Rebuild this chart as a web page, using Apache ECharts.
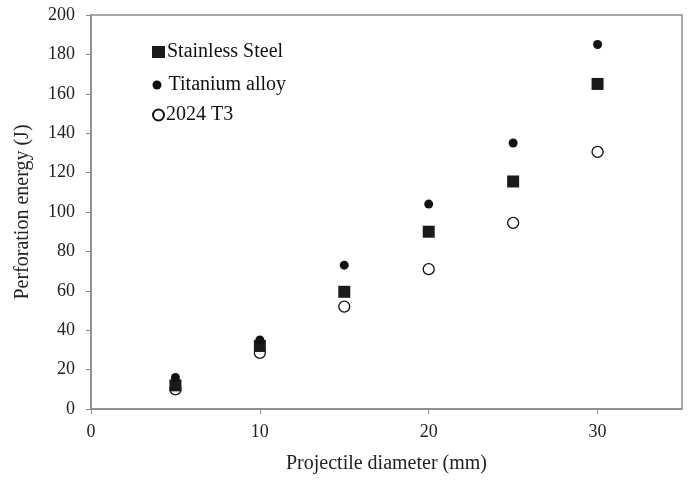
<!DOCTYPE html>
<html><head><meta charset="utf-8">
<script src="https://cdn.jsdelivr.net/npm/echarts@6/dist/echarts.min.js"></script>
<style>html,body{margin:0;padding:0;background:#fff}#c{width:690px;height:481px}</style>
</head><body><div id="c"></div>
<script>
const diameters = [5, 10, 15, 20, 25, 30];
const stainlessSteel = [12, 32, 59.5, 90, 115.5, 165];
const titaniumAlloy = [16, 35, 73, 104, 135, 185];
const al2024T3 = [10, 28.5, 52, 71, 94.5, 130.5];
const seriesNames = ['Stainless Steel', 'Titanium alloy', '2024 T3'];

const font = 'Liberation Serif, Times New Roman, serif';
const pair = (ys) => diameters.map((x, i) => [x, ys[i]]);
const chart = echarts.init(document.getElementById('c'));
const mkLegend = (name, icon, left, top, w, h, padLeft) => ({
  orient: 'vertical', itemGap: 0, selectedMode: false, left: left, top: top,
  itemWidth: w, itemHeight: h, data: [{ name: name, icon: icon }],
  textStyle: { fontFamily: font, fontSize: 20, color: '#111', padding: [0, 0, 0, padLeft] }
});
chart.setOption({
  animation: false,
  grid: { left: 91, right: 8, top: 15, bottom: 72, show: true, borderColor: '#8a8a8a', borderWidth: 1.5 },
  legend: [
    mkLegend(seriesNames[0], 'rect', 147, 37, 13, 12, -3),
    mkLegend(seriesNames[1], 'circle', 147.5, 70, 9, 9, 2),
    mkLegend(seriesNames[2], 'circle', 147, 100, 11, 11, -3)
  ],
  xAxis: {
    type: 'value', min: 0, max: 35, interval: 10,
    name: 'Projectile diameter (mm)', nameLocation: 'middle', nameGap: 45,
    nameTextStyle: { fontFamily: font, fontSize: 20, color: '#222' },
    axisLine: { show: true, lineStyle: { color: '#8a8a8a', width: 1.5 } },
    axisTick: { show: true, length: 5, lineStyle: { color: '#8a8a8a' } },
    axisLabel: { fontFamily: font, fontSize: 18, color: '#222', margin: 14, showMaxLabel: false },
    splitLine: { show: false }
  },
  yAxis: {
    type: 'value', min: 0, max: 200, interval: 20,
    name: 'Perforation energy (J)', nameLocation: 'middle', nameGap: 58,
    nameTextStyle: { fontFamily: font, fontSize: 20, color: '#222' },
    axisLine: { show: true, lineStyle: { color: '#8a8a8a', width: 1.5 } },
    axisTick: { show: true, length: 5, lineStyle: { color: '#8a8a8a' } },
    axisLabel: { fontFamily: font, fontSize: 18, color: '#222', margin: 16 },
    splitLine: { show: false }
  },
  series: [
    { name: seriesNames[2], type: 'scatter', data: pair(al2024T3), symbol: 'circle', symbolSize: 11,
      itemStyle: { color: '#fff', borderColor: '#111', borderWidth: 1.3, opacity: 1 }, z: 1 },
    { name: seriesNames[0], type: 'scatter', data: pair(stainlessSteel), symbol: 'rect', symbolSize: 12,
      itemStyle: { color: '#1a1a1a', opacity: 1 }, z: 2 },
    { name: seriesNames[1], type: 'scatter', data: pair(titaniumAlloy), symbol: 'circle', symbolSize: 9,
      itemStyle: { color: '#111', opacity: 1 }, z: 3 }
  ]
});
</script></body></html>
